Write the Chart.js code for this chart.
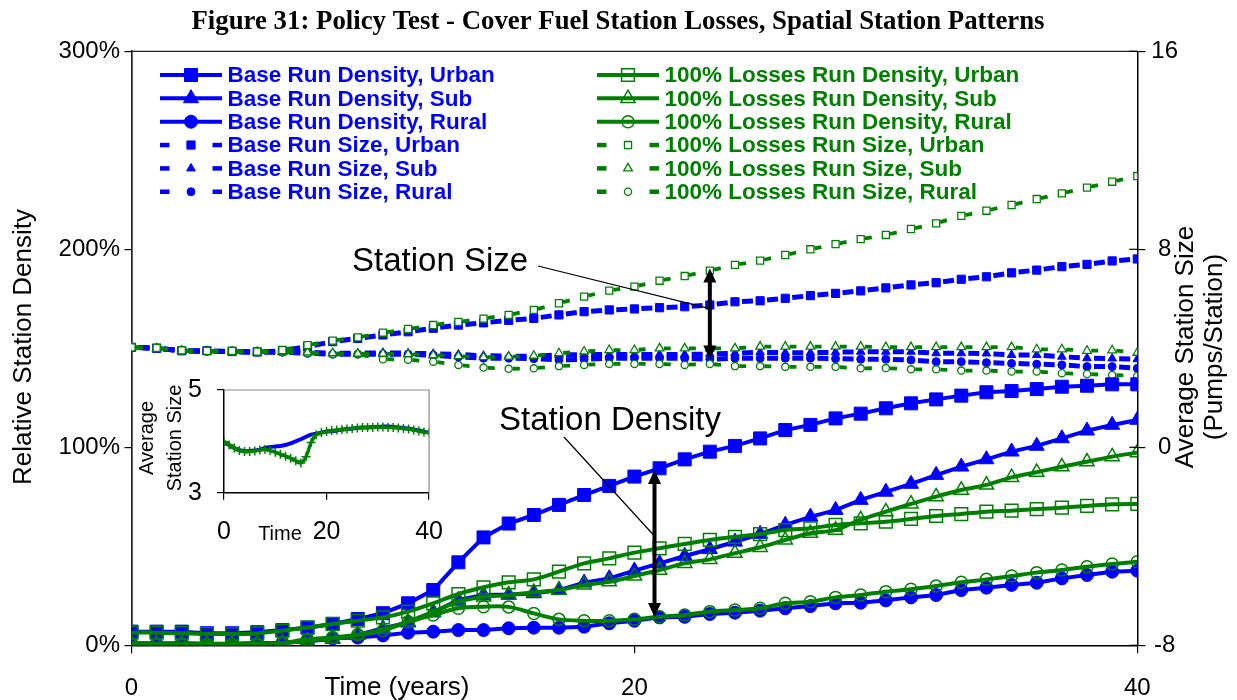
<!DOCTYPE html>
<html><head><meta charset="utf-8">
<script src="https://cdn.jsdelivr.net/npm/chart.js@4.4.1/dist/chart.umd.min.js"></script>
<style>
html,body{margin:0;padding:0;background:#fff;}
#wrap{position:relative;width:1237px;height:700px;overflow:hidden;}
#main{position:absolute;left:0;top:0;}
#inset{position:absolute;left:130px;top:360px;}
</style></head><body>
<div id="wrap"><canvas id="main" width="1237" height="700"></canvas><canvas id="inset" width="330" height="195"></canvas></div>
<script>
// ---------- DATA ----------
const years = [0,1,2,3,4,5,6,7,8,9,10,11,12,13,14,15,16,17,18,19,20,21,22,23,24,25,26,27,28,29,30,31,32,33,34,35,36,37,38,39,40];
const xTicks = [0, 20, 40];
const leftTicks = [0, 100, 200, 300];
const rightTicks = [-8, 0, 8, 16];

// Relative station density (%), left axis
const baseDensityUrban = [6.9,6.9,6.9,6.1,6.1,6.6,7.7,8.9,10.8,13.3,16.2,21.2,27.9,41.9,54.5,61.5,65.8,70.9,75.9,80.5,85.2,89.4,93.9,97.8,100.7,104.5,108.7,111.3,114.6,117.0,119.7,122.2,124.2,126.1,127.8,128.4,129.4,130.6,131.1,131.8,131.8];
const baseDensitySub = [1.0,1.0,0.8,0.8,0.8,1.0,1.3,2.0,3.2,5.2,8.6,11.4,16.5,22.9,25.4,25.6,26.2,27.9,31.6,33.8,37.7,41.4,45.1,48.5,52.3,56.2,60.8,64.9,68.3,73.4,77.5,81.5,86.0,90.2,93.9,97.8,100.7,104.5,108.4,111.3,113.8];
const baseDensityRural = [0.7,0.7,1.0,0.7,0.7,1.0,1.3,2.2,3.5,3.9,5.0,6.4,6.9,7.7,7.7,8.6,8.9,8.9,9.4,11.1,12.4,14.1,14.4,15.8,16.5,17.5,18.7,19.8,21.2,21.5,22.7,24.2,25.4,27.9,29.1,30.5,31.6,33.8,35.5,37.2,37.7];
const lossDensityUrban = [6.4,6.4,6.1,5.7,5.7,6.0,7.4,9.0,10.8,12.4,14.1,17.0,21.2,25.9,29.3,31.8,33.3,37.2,41.4,43.9,46.8,49.0,51.2,53.2,54.8,56.2,58.2,59.1,60.8,61.6,62.4,63.8,65.3,66.3,67.5,68.0,68.8,69.5,70.4,71.2,71.4];
const lossDensitySub = [0.8,0.8,0.6,0.6,0.6,0.8,1.2,2.2,3.4,5.2,8.1,11.9,17.0,22.0,24.5,25.3,26.8,27.9,30.5,32.1,35.0,38.0,41.4,43.4,46.5,49.5,53.2,56.6,58.2,63.5,67.5,71.4,75.1,78.4,81.0,84.8,87.4,90.2,92.7,95.3,97.3];
const lossDensityRural = [0.7,0.7,0.8,0.7,0.7,0.8,1.2,3.0,4.0,5.4,7.5,11.9,15.3,18.7,19.5,19.4,16.1,13.1,12.4,12.4,13.1,14.4,15.3,17.0,17.8,18.7,21.2,22.0,24.2,25.4,27.1,28.3,29.9,31.8,33.3,35.0,36.7,38.0,39.7,41.1,42.2];

// Average station size (pumps/station), right axis
const baseSizeUrban = [4.04,4.0,3.9,3.9,3.87,3.85,3.9,4.07,4.27,4.40,4.54,4.67,4.81,4.94,5.03,5.13,5.21,5.35,5.48,5.55,5.59,5.64,5.68,5.75,5.88,5.92,6.02,6.13,6.22,6.32,6.44,6.56,6.65,6.79,6.89,7.05,7.16,7.30,7.39,7.53,7.61];
const baseSizeSub = [4.04,4.0,3.9,3.88,3.86,3.85,3.86,3.84,3.8,3.8,3.82,3.8,3.78,3.75,3.7,3.68,3.68,3.73,3.75,3.75,3.75,3.75,3.75,3.77,3.8,3.84,3.82,3.82,3.84,3.86,3.86,3.86,3.8,3.8,3.79,3.73,3.73,3.66,3.6,3.59,3.56];
const baseSizeRural = [4.04,4.0,3.9,3.88,3.86,3.85,3.84,3.8,3.76,3.76,3.76,3.76,3.72,3.65,3.6,3.6,3.58,3.53,3.56,3.6,3.6,3.6,3.6,3.56,3.6,3.6,3.6,3.6,3.58,3.56,3.56,3.53,3.46,3.46,3.42,3.39,3.36,3.33,3.26,3.26,3.19];
const lossSizeUrban = [4.04,4.02,3.92,3.9,3.9,3.87,3.93,4.13,4.31,4.44,4.63,4.78,4.94,5.07,5.2,5.35,5.55,5.82,6.09,6.33,6.49,6.73,6.92,7.14,7.37,7.54,7.77,8.0,8.21,8.41,8.58,8.82,9.05,9.35,9.56,9.79,10.03,10.26,10.49,10.73,10.96];
const lossSizeSub = [4.04,4.0,3.9,3.88,3.86,3.85,3.86,3.83,3.8,3.78,3.78,3.76,3.72,3.68,3.64,3.66,3.7,3.8,3.87,3.93,3.93,4.0,4.0,4.0,4.0,4.07,4.07,4.07,4.07,4.07,4.05,4.05,4.05,4.05,4.05,4.05,3.96,3.96,3.9,3.92,3.82];
const lossSizeRural = [4.04,4.0,3.9,3.88,3.86,3.85,3.84,3.8,3.76,3.76,3.56,3.54,3.46,3.33,3.22,3.17,3.19,3.28,3.33,3.37,3.37,3.37,3.33,3.37,3.28,3.28,3.25,3.25,3.25,3.19,3.2,3.15,3.15,3.1,3.1,3.06,3.06,2.99,2.96,2.92,2.88];

// Inset: average station size (all areas)
const insetTicksX = [0, 20, 40];
const insetTicksY = [3, 5];
const insetBase = [3.99,3.93,3.87,3.83,3.81,3.81,3.82,3.84,3.87,3.89,3.90,3.91,3.93,3.96,4.00,4.04,4.09,4.13,4.15,4.17,4.19,4.20,4.21,4.23,4.24,4.25,4.26,4.27,4.27,4.28,4.28,4.29,4.29,4.28,4.27,4.26,4.25,4.23,4.21,4.19,4.17];
const insetLoss = [3.99,3.93,3.87,3.82,3.80,3.80,3.81,3.83,3.84,3.82,3.79,3.75,3.71,3.67,3.62,3.58,3.70,3.98,4.13,4.17,4.19,4.21,4.22,4.23,4.24,4.25,4.26,4.27,4.27,4.27,4.28,4.28,4.27,4.27,4.26,4.25,4.24,4.22,4.20,4.18,4.17];

const labels = {
  title: 'Figure 31: Policy Test - Cover Fuel Station Losses, Spatial Station Patterns',
  yLeft: 'Relative Station Density',
  yRight: ['Average Station Size', '(Pumps/Station)'],
  x: 'Time (years)',
  sizeNote: 'Station Size',
  densityNote: 'Station Density',
  insetY: ['Average', 'Station Size'],
  insetX: 'Time'
};

// ---------- STYLE ----------
const FONT = "'Liberation Sans', Arial, Helvetica, sans-serif";
const SERIF = "'Liberation Serif', 'Times New Roman', serif";
const BLUE = '#0000FF', GREEN = '#008000', NONE = 'rgba(0,0,0,0)';

function pts(values) { return years.map((x, i) => ({x: x, y: values[i]})); }

function densitySet(label, values, color, style, radius, filled, col, row) {
  return {
    label, data: pts(values), yAxisID: 'y',
    borderColor: color, backgroundColor: color, borderWidth: 4,
    pointStyle: style, pointRadius: radius, pointHoverRadius: radius,
    pointBackgroundColor: filled ? color : NONE, pointBorderColor: color,
    pointBorderWidth: filled ? 1 : 1.5,
    tension: filled ? 0 : 0.3, order: filled ? 2 : 1,
    legendCol: col, legendRow: row, legendKind: 'solid'
  };
}
function sizeSet(label, values, color, style, radius, filled, col, row) {
  const dash = filled ? [11, 100] : [7, 100];
  const off = filled ? -7 : -4.2;
  return {
    label, data: pts(values), yAxisID: 'y2',
    borderColor: color, backgroundColor: color, borderWidth: filled ? 5 : 3.8,
    borderDash: dash, borderDashOffset: off,
    segment: { borderDashOffset: c => (c.p0DataIndex % 2 ? off : off - 0.001) },
    pointStyle: style, pointRadius: radius, pointHoverRadius: radius,
    pointBackgroundColor: filled ? color : '#fff', pointBorderColor: color,
    pointBorderWidth: filled ? 1 : 1.3,
    tension: 0, order: filled ? 4 : 3,
    legendCol: col, legendRow: row, legendKind: 'dash'
  };
}

const datasets = [
  densitySet('Base Run Density, Urban', baseDensityUrban, BLUE, 'rect', 9.2, true, 0, 0),
  densitySet('Base Run Density, Sub', baseDensitySub, BLUE, 'triangle', 8.7, true, 0, 1),
  densitySet('Base Run Density, Rural', baseDensityRural, BLUE, 'circle', 6.5, true, 0, 2),
  sizeSet('Base Run Size, Urban', baseSizeUrban, BLUE, 'rect', 5.8, true, 0, 3),
  sizeSet('Base Run Size, Sub', baseSizeSub, BLUE, 'triangle', 5, true, 0, 4),
  sizeSet('Base Run Size, Rural', baseSizeRural, BLUE, 'circle', 4, true, 0, 5),
  densitySet('100% Losses Run Density, Urban', lossDensityUrban, GREEN, 'rect', 9, false, 1, 0),
  densitySet('100% Losses Run Density, Sub', lossDensitySub, GREEN, 'triangle', 8.2, false, 1, 1),
  densitySet('100% Losses Run Density, Rural', lossDensityRural, GREEN, 'circle', 6, false, 1, 2),
  sizeSet('100% Losses Run Size, Urban', lossSizeUrban, GREEN, 'rect', 5, false, 1, 3),
  sizeSet('100% Losses Run Size, Sub', lossSizeSub, GREEN, 'triangle', 5, false, 1, 4),
  sizeSet('100% Losses Run Size, Rural', lossSizeRural, GREEN, 'circle', 3.6, false, 1, 5)
];

// ---------- PLUGINS ----------
function text(ctx, str, x, y, font, color, align, rot) {
  ctx.save();
  ctx.translate(x, y);
  if (rot) ctx.rotate(rot);
  ctx.font = font; ctx.fillStyle = color || '#000';
  ctx.textAlign = align || 'center'; ctx.textBaseline = 'middle';
  ctx.fillText(str, 0, 0);
  ctx.restore();
}
function arrowHead(ctx, x, y, dir) {
  ctx.beginPath();
  ctx.moveTo(x, y);
  ctx.lineTo(x - 6.5, y - dir * 14);
  ctx.lineTo(x + 6.5, y - dir * 14);
  ctx.closePath(); ctx.fill();
}
function doubleArrow(ctx, x, yTop, yBot) {
  ctx.save();
  ctx.strokeStyle = '#000'; ctx.fillStyle = '#000'; ctx.lineWidth = 4;
  ctx.beginPath(); ctx.moveTo(x, yTop + 10); ctx.lineTo(x, yBot - 10); ctx.stroke();
  arrowHead(ctx, x, yTop, -1);
  arrowHead(ctx, x, yBot, 1);
  ctx.restore();
}
function drawMarker(ctx, ds, x, y) {
  ctx.save();
  ctx.fillStyle = ds.pointBackgroundColor; ctx.strokeStyle = ds.pointBorderColor;
  ctx.lineWidth = ds.pointBorderWidth;
  Chart.helpers.drawPoint(ctx, {pointStyle: ds.pointStyle, radius: ds.pointRadius, rotation: 0, borderWidth: ds.pointBorderWidth}, x, y);
  ctx.restore();
}

const legendPlugin = {
  id: 'customLegend',
  afterDraw(chart) {
    const ctx = chart.ctx;
    const colX = [160, 597], y0 = 75, dy = 23.35, w = 62;
    chart.data.datasets.forEach(ds => {
      const x0 = colX[ds.legendCol], y = y0 + ds.legendRow * dy;
      ctx.save();
      if (ds.legendKind === 'solid') {
        ctx.strokeStyle = ds.borderColor; ctx.lineWidth = ds.borderWidth;
        ctx.beginPath(); ctx.moveTo(x0, y); ctx.lineTo(x0 + w, y); ctx.stroke();
      } else {
        ctx.fillStyle = ds.borderColor;
        const t = 4.5;
        ctx.fillRect(x0, y - t / 2, 9.5, t);
        ctx.fillRect(x0 + w - 9.5, y - t / 2, 9.5, t);
      }
      ctx.restore();
      drawMarker(ctx, ds, x0 + w / 2, y);
      text(ctx, ds.label, x0 + w + 5.5, y + 1, 'bold 22.5px ' + FONT, ds.borderColor, 'left');
    });
  }
};

const decoPlugin = {
  id: 'deco',
  afterDraw(chart) {
    const ctx = chart.ctx, a = chart.chartArea;
    const X = chart.scales.x, YL = chart.scales.y, YR = chart.scales.y2;
    // title
    text(ctx, labels.title, 618, 22, 'bold 26.8px ' + SERIF, '#000');
    // top frame line
    ctx.save();
    ctx.strokeStyle = '#222'; ctx.lineWidth = 1.2;
    ctx.beginPath(); ctx.moveTo(a.left, a.top); ctx.lineTo(a.right, a.top); ctx.stroke();
    // inner part of the right axis ticks (they cross the axis)
    ctx.strokeStyle = '#000'; ctx.lineWidth = 1.2;
    rightTicks.forEach(v => {
      const py = YR.getPixelForValue(v);
      ctx.beginPath(); ctx.moveTo(a.right - 8, py); ctx.lineTo(a.right, py); ctx.stroke();
    });
    ctx.restore();
    // axis titles
    text(ctx, labels.yLeft, 24, 347, '26px ' + FONT, '#000', 'center', -Math.PI / 2);
    text(ctx, labels.yRight[0], 1186, 347, '26px ' + FONT, '#000', 'center', -Math.PI / 2);
    text(ctx, labels.yRight[1], 1215, 347, '26px ' + FONT, '#000', 'center', -Math.PI / 2);
    text(ctx, labels.x, 397, 688, '26px ' + FONT, '#000', 'center');

    // annotations
    const sx = X.getPixelForValue(23);
    const sTop = YR.getPixelForValue(7.22), sBot = YR.getPixelForValue(3.55);
    const dx = X.getPixelForValue(20.8);
    const dTop = YL.getPixelForValue(88.5), dBot = YL.getPixelForValue(14.3);
    ctx.save();
    ctx.strokeStyle = '#000'; ctx.lineWidth = 1.2;
    ctx.beginPath(); ctx.moveTo(538, 266); ctx.lineTo(sx, YR.getPixelForValue(5.6)); ctx.stroke();
    ctx.beginPath(); ctx.moveTo(564, 437); ctx.lineTo(dx - 1, YL.getPixelForValue(55.7)); ctx.stroke();
    ctx.restore();
    doubleArrow(ctx, sx, sTop, sBot);
    doubleArrow(ctx, dx, dTop, dBot);
    text(ctx, labels.sizeNote, 352, 262, '33px ' + FONT, '#000', 'left');
    text(ctx, labels.densityNote, 499, 421, '33px ' + FONT, '#000', 'left');
  }
};

const tickFont = {family: FONT, size: 24};
const insetTickFont = {family: FONT, size: 25};

new Chart(document.getElementById('main'), {
  type: 'line',
  data: { datasets },
  options: {
    responsive: false, animation: false,
    layout: { padding: { top: 51.3, left: 0, right: 0, bottom: 0 } },
    plugins: { legend: { display: false }, tooltip: { enabled: false }, title: { display: false } },
    scales: {
      x: {
        type: 'linear', min: 0, max: 40,
        afterBuildTicks: s => { s.ticks = xTicks.map(v => ({value: v})); },
        ticks: { font: tickFont, color: '#000', padding: 20.3, maxRotation: 0 },
        grid: { drawOnChartArea: false, tickLength: 8, color: '#000', lineWidth: 1.2 },
        border: { color: '#000', width: 1.5 },
        afterFit: s => { s.height = 54.7; }
      },
      y: {
        position: 'left', min: 0, max: 300,
        afterBuildTicks: s => { s.ticks = leftTicks.map(v => ({value: v})); },
        ticks: { font: tickFont, color: '#000', padding: 4.5, callback: v => v + '%' },
        grid: { drawOnChartArea: false, tickLength: 7, color: '#000', lineWidth: 1.2 },
        border: { color: '#222', width: 1.7 },
        afterFit: s => { s.width = 131.5; }
      },
      y2: {
        position: 'right', min: -8, max: 16,
        afterBuildTicks: s => { s.ticks = rightTicks.map(v => ({value: v})); },
        ticks: { font: tickFont, color: '#000', padding: 6, crossAlign: 'center' },
        grid: { drawOnChartArea: false, tickLength: 8, color: '#000', lineWidth: 1.2 },
        border: { color: '#000', width: 1.5 },
        afterFit: s => { s.width = 99.7; }
      }
    }
  },
  plugins: [legendPlugin, decoPlugin]
});

// ---------- INSET ----------
const insetDeco = {
  id: 'insetDeco',
  afterDraw(chart) {
    const ctx = chart.ctx, a = chart.chartArea;
    ctx.save();
    ctx.strokeStyle = '#888'; ctx.lineWidth = 1.2;
    ctx.beginPath(); ctx.moveTo(a.left, a.top); ctx.lineTo(a.right, a.top); ctx.lineTo(a.right, a.bottom); ctx.stroke();
    ctx.restore();
    text(ctx, labels.insetY[0], 17, 78, '20px ' + FONT, '#000', 'center', -Math.PI / 2);
    text(ctx, labels.insetY[1], 45, 78, '20px ' + FONT, '#000', 'center', -Math.PI / 2);
    text(ctx, labels.insetX, 150, 174, '20px ' + FONT, '#000', 'center');
  }
};

new Chart(document.getElementById('inset'), {
  type: 'line',
  data: {
    datasets: [
      { label: '100% Losses', data: pts(insetLoss), borderColor: GREEN, borderWidth: 3.5,
        pointStyle: 'cross', pointRadius: 4.5, pointBorderColor: GREEN, pointBorderWidth: 1.5,
        pointBackgroundColor: GREEN, tension: 0.3, order: 0 },
      { label: 'Base', data: pts(insetBase), borderColor: BLUE, borderWidth: 4,
        pointRadius: 0, tension: 0.3, order: 1 }
    ]
  },
  options: {
    responsive: false, animation: false,
    layout: { padding: { top: 22.7, right: 10, left: 0, bottom: 0 } },
    plugins: { legend: { display: false }, tooltip: { enabled: false } },
    scales: {
      x: {
        type: 'linear', min: 0, max: 40,
        afterBuildTicks: s => { s.ticks = insetTicksX.map(v => ({value: v})); },
        ticks: { font: insetTickFont, color: '#000', padding: 17, maxRotation: 0 },
        grid: { drawOnChartArea: false, tickLength: 7, color: '#000', lineWidth: 1.2 },
        border: { color: '#000', width: 1.5 },
        afterFit: s => { s.height = 62.3; }
      },
      y: {
        min: 3, max: 5,
        afterBuildTicks: s => { s.ticks = insetTicksY.map(v => ({value: v})); },
        ticks: { font: insetTickFont, color: '#000', padding: 15 },
        grid: { drawOnChartArea: false, tickLength: 7, color: '#000', lineWidth: 1.2 },
        border: { color: '#000', width: 1.5 },
        afterFit: s => { s.width = 94; }
      }
    }
  },
  plugins: [insetDeco]
});
</script>
</body></html>
